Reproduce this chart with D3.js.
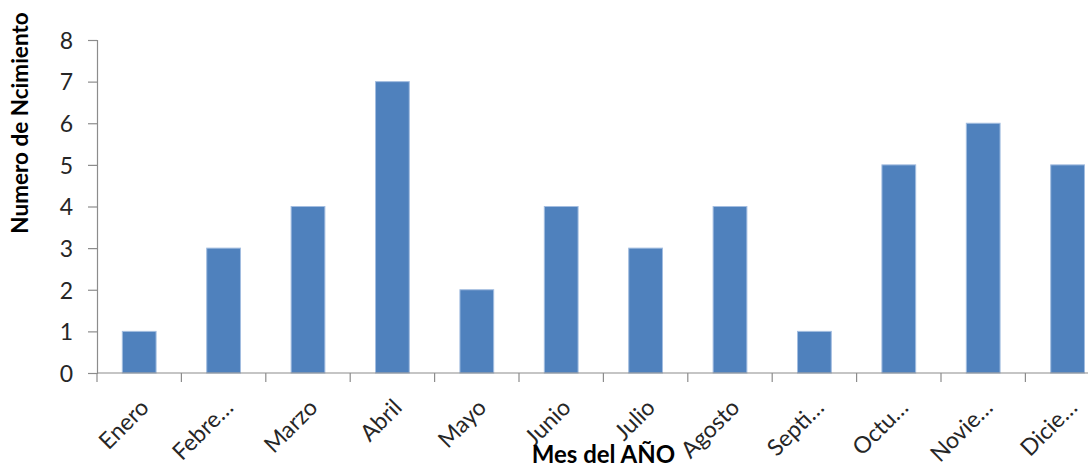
<!DOCTYPE html>
<html>
<head>
<meta charset="utf-8">
<script src="https://cdn.jsdelivr.net/npm/d3@7"></script>
<style>
  html, body { margin: 0; padding: 0; background: #fff; overflow: hidden; }
  svg { display: block; }
  text { font-family: Lato, "Open Sans", sans-serif; }
</style>
</head>
<body>
<svg id="chart" width="1088" height="470"></svg>
<script>
// Births per month
const months = ["Enero", "Febre…", "Marzo", "Abril", "Mayo", "Junio", "Julio", "Agosto", "Septi…", "Octu…", "Novie…", "Dicie…"];
const births = [1, 3, 4, 7, 2, 4, 3, 4, 1, 5, 6, 5];
const yTicks = [0, 1, 2, 3, 4, 5, 6, 7, 8];
const yTitle = "Numero de Ncimiento";
const xTitle = "Mes del AÑO";

const svg = d3.select("#chart");
const plot = { left: 97, top: 40, bottom: 373, right: 97 + 12 * 84.4 };

const x = d3.scaleBand().domain(months).range([plot.left, plot.right]).paddingInner(0.6).paddingOuter(0.3);
const y = d3.scaleLinear().domain([0, 8]).range([plot.bottom, plot.top]);

const axisColor = "#8c8c8c";

// Bars
svg.append("g").selectAll("rect")
  .data(births)
  .join("rect")
  .attr("x", (d, i) => x(months[i]))
  .attr("width", x.bandwidth())
  .attr("y", d => y(d))
  .attr("height", d => y(0) - y(d))
  .attr("fill", "#4f81bd")
  .attr("stroke", "#a3bde0")
  .attr("stroke-width", 1);

// Y axis
const yAxis = svg.append("g")
  .attr("transform", `translate(${plot.left},0)`)
  .call(d3.axisLeft(y).tickValues(yTicks).tickSize(9).tickPadding(15).tickFormat(d3.format("d")));
yAxis.select(".domain").attr("stroke", axisColor).attr("stroke-width", 1.2);
yAxis.selectAll(".tick line").attr("stroke", axisColor).attr("stroke-width", 1.2);
yAxis.selectAll(".tick text").attr("fill", "#262626").attr("font-size", 23).attr("dy", "0.36em");

// X axis: ticks sit on the category boundaries
const boundaries = d3.range(months.length + 1).map(i => plot.left + i * x.step());
const xAxisG = svg.append("g");
xAxisG.append("line")
  .attr("x1", plot.left).attr("x2", plot.right)
  .attr("y1", plot.bottom).attr("y2", plot.bottom)
  .attr("stroke", axisColor).attr("stroke-width", 1.2);
xAxisG.selectAll("line.tk")
  .data(boundaries)
  .join("line")
  .attr("class", "tk")
  .attr("x1", d => d).attr("x2", d => d)
  .attr("y1", plot.bottom).attr("y2", plot.bottom + 9)
  .attr("stroke", axisColor).attr("stroke-width", 1.2);

// Rotated category labels
xAxisG.selectAll("text")
  .data(months)
  .join("text")
  .attr("transform", d => `translate(${x(d) + x.bandwidth() / 2 + 11},${plot.bottom + 36}) rotate(-45)`)
  .attr("text-anchor", "end")
  .attr("fill", "#262626")
  .attr("font-size", 23)
  .text(d => d);

// Axis titles
svg.append("text")
  .attr("transform", `translate(28,123) rotate(-90)`)
  .attr("text-anchor", "middle")
  .attr("font-weight", "bold")
  .attr("font-size", 22.5)
  .attr("fill", "#000")
  .text(yTitle);

svg.append("text")
  .attr("x", (plot.left + plot.right) / 2)
  .attr("y", 463)
  .attr("text-anchor", "middle")
  .attr("font-weight", "bold")
  .attr("font-size", 24)
  .attr("fill", "#000")
  .text(xTitle);
</script>
</body>
</html>
